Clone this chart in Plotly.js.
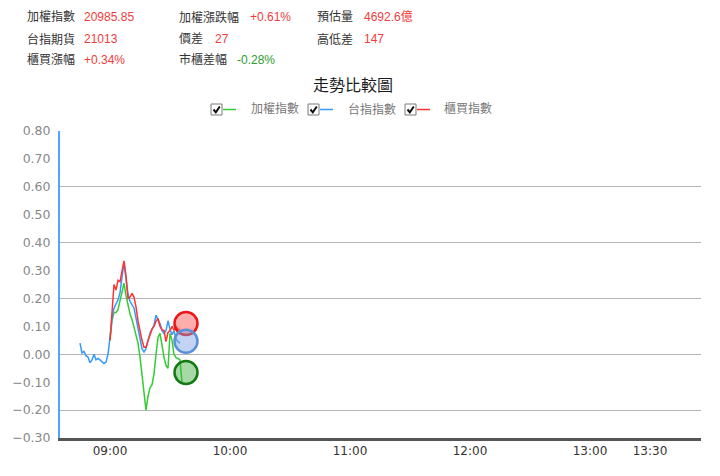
<!DOCTYPE html>
<html>
<head>
<meta charset="utf-8">
<script src="https://cdn.plot.ly/plotly-3.0.1.min.js"></script>
<style>html,body{margin:0;padding:0;background:#fff;}#chart{width:720px;height:476px;}</style>
</head>
<body>
<div id="chart"></div>
<script>
// ---------- DATA ----------
const tradeDay = '2024-01-02 ';
const chartTitle = '走勢比較圖';
const seriesNames = ['加權指數', '台指指數', '櫃買指數'];

const infoLabels = ['加權指數', '加權漲跌幅', '預估量', '台指期貨', '價差', '高低差', '櫃買漲幅', '市櫃差幅'];
const infoValues = ['20985.85', '+0.61%', '4692.6億', '21013', '27', '147', '+0.34%', '-0.28%'];

const futPreTimes = ['08:45','08:46','08:47','08:48','08:49','08:50','08:51','08:52','08:53','08:54','08:55','08:56','08:57','08:58','08:59'];
const idxTimes = ['09:00','09:01','09:02','09:03','09:04','09:05','09:06','09:07','09:08','09:09',
                  '09:10','09:11','09:12','09:13','09:14','09:15','09:16','09:17','09:18','09:19',
                  '09:20','09:21','09:22','09:23','09:24','09:25','09:26','09:27','09:28','09:29',
                  '09:30','09:31','09:32','09:33','09:34','09:35','09:36'];

// 加權指數 (green), 09:00 - 09:36
const taiexValues = [0.05, 0.12, 0.15, 0.15, 0.16, 0.19, 0.23, 0.255, 0.21, 0.17,
                     0.145, 0.125, 0.095, 0.07, 0.04, -0.01, -0.07, -0.14, -0.20, -0.15,
                     -0.12, -0.11, -0.07, 0.0, 0.06, 0.075, 0.03, -0.01, -0.04, -0.05,
                     0.075, 0.05, 0.0, -0.012, -0.015, -0.02, -0.10];

// 台指指數 (blue), 08:45 - 09:35
const futuresValues = [0.04, 0.005, 0.01, -0.005, -0.01, -0.03, -0.02, 0.0, -0.02, -0.015,
                       -0.02, -0.028, -0.033, -0.028, 0.0,
                       0.06, 0.13, 0.165, 0.18, 0.195, 0.22, 0.27, 0.33, 0.27, 0.215,
                       0.19, 0.175, 0.165, 0.13, 0.09, 0.045, 0.02, 0.008, 0.02, 0.05,
                       0.075, 0.09, 0.105, 0.14, 0.125, 0.11, 0.085, 0.075, 0.085, 0.12,
                       0.09, 0.07, 0.085, 0.055, 0.045, 0.04];

// 櫃買指數 (red), 09:00 - 09:35
const otcValues = [0.05, 0.17, 0.25, 0.23, 0.265, 0.26, 0.30, 0.335, 0.28, 0.20,
                   0.205, 0.218, 0.205, 0.17, 0.12, 0.08, 0.05, 0.025, 0.025, 0.048,
                   0.07, 0.09, 0.10, 0.118, 0.128, 0.10, 0.088, 0.085, 0.045, 0.078,
                   0.085, 0.10, 0.086, 0.10, 0.09, 0.088];

// end-point circles: [加權, 台指, 櫃買]
const markerTime = '09:38';
const markerValues = [-0.065, 0.047, 0.11];

const xTickTimes = ['09:00', '10:00', '11:00', '12:00', '13:00', '13:30'];
const yTickVals = [-0.3, -0.2, -0.1, 0.0, 0.1, 0.2, 0.3, 0.4, 0.5, 0.6, 0.7, 0.8];
const yGridVals = [-0.2, 0.0, 0.2, 0.4, 0.6];

// ---------- STYLE / LAYOUT ----------
const colors = ['#33cc33', '#3399ff', '#ff3333'];
const circleFill = ['rgba(60,170,60,0.45)', 'rgba(120,160,225,0.45)', 'rgba(255,90,90,0.5)'];
const circleLine = ['#137a13', '#5b8fd6', '#e81818'];

const W = 720, H = 476, ML = 60, MR = 19, MT = 131, MB = 38;
const PW = W - ML - MR, PH = H - MT - MB;
const px = x => (x - ML) / PW;
const py = y => (H - MB - y) / PH;
const toX = t => tradeDay + t;

const futTimes = futPreTimes.concat(idxTimes.slice(0, futuresValues.length - futPreTimes.length));

const traces = [
  {x: idxTimes.slice(0, taiexValues.length).map(toX), y: taiexValues, name: seriesNames[0],
   mode: 'lines', line: {color: colors[0], width: 1.5}, showlegend: false},
  {x: futTimes.map(toX), y: futuresValues, name: seriesNames[1],
   mode: 'lines', line: {color: colors[1], width: 1.5}, showlegend: false},
  {x: idxTimes.slice(0, otcValues.length).map(toX), y: otcValues, name: seriesNames[2],
   mode: 'lines', line: {color: colors[2], width: 1.5}, showlegend: false}
];
// circles: red, blue, green drawing order
[2, 1, 0].forEach(i => {
  traces.push({x: [toX(markerTime)], y: [markerValues[i]], mode: 'markers', showlegend: false,
    marker: {size: 23, color: circleFill[i], line: {color: circleLine[i], width: 2.5}}});
});

const cjk = "'Liberation Sans', 'Noto Sans CJK TC', sans-serif";
const annotations = [];
// header info
const infoLabelPos = [[25,17],[177,17],[315,17],[25,39],[177,39],[315,39],[25,60],[177,60]];
const infoValuePos = [[82,17],[248,17],[362,17],[82,39],[213,39],[362,39],[82,60],[235,60]];
const infoValueColor = ['#f03c3c','#f03c3c','#f03c3c','#f03c3c','#f03c3c','#f03c3c','#f03c3c','#2e9e2e'];
infoLabels.forEach((t, i) => {
  annotations.push({text: t, xref: 'paper', yref: 'paper', x: px(infoLabelPos[i][0]), y: py(infoLabelPos[i][1]),
    xanchor: 'left', yanchor: 'middle', showarrow: false, font: {family: cjk, size: 12, color: '#333'}});
  annotations.push({text: infoValues[i], xref: 'paper', yref: 'paper', x: px(infoValuePos[i][0]), y: py(infoValuePos[i][1]),
    xanchor: 'left', yanchor: 'middle', showarrow: false, font: {family: cjk, size: 12, color: infoValueColor[i]}});
});
// legend (checkbox, line sample, name)
const legBox = [211, 308, 405], legText = [249, 346, 442];
const legY = 109.5;
const shapes = [];
const P = (x, y) => px(x) + ',' + py(y);
seriesNames.forEach((n, i) => {
  const bx = legBox[i];
  shapes.push({type: 'rect', xref: 'paper', yref: 'paper', x0: px(bx), x1: px(bx + 11),
    y0: py(legY - 5.5), y1: py(legY + 5.5), line: {color: '#7a7a7a', width: 1}, fillcolor: '#fff'});
  shapes.push({type: 'path', xref: 'paper', yref: 'paper',
    path: 'M' + P(bx + 2.5, legY) + 'L' + P(bx + 4.8, legY + 2.8) + 'L' + P(bx + 8.8, legY - 3),
    line: {color: '#111', width: 2}});
  shapes.push({type: 'line', xref: 'paper', yref: 'paper', x0: px(bx + 12), x1: px(bx + 25),
    y0: py(legY), y1: py(legY), line: {color: colors[i], width: 1.5}});
  annotations.push({text: n, xref: 'paper', yref: 'paper', x: px(legText[i]), y: py(legY),
    xanchor: 'left', yanchor: 'middle', showarrow: false, font: {family: cjk, size: 12, color: '#777'}});
});

const layout = {
  width: W, height: H, autosize: false,
  margin: {l: ML, r: MR, t: MT, b: MB, pad: 0},
  paper_bgcolor: '#fff', plot_bgcolor: '#fff',
  title: {text: chartTitle, xref: 'container', yref: 'container', x: 353 / W, y: 1 - 85 / H,
          xanchor: 'center', yanchor: 'middle', font: {family: "'Noto Sans CJK TC', sans-serif", size: 16, color: '#1a1a1a'}},
  xaxis: {type: 'date', range: [toX('08:35'), toX('13:55:30')], tickmode: 'array',
          tickvals: xTickTimes.map(toX), ticktext: xTickTimes, showgrid: false, zeroline: false,
          showline: true, linecolor: '#555', linewidth: 2.5, ticks: '',
          tickfont: {family: 'DejaVu Sans', size: 12, color: '#333'}, fixedrange: true},
  yaxis: {range: [-0.3, 0.8], tickmode: 'array', tickvals: yTickVals, tickformat: '.2f',
          showgrid: false, zeroline: false, showline: true, linecolor: '#4da6ff', linewidth: 2,
          ticks: '', ticklabelstandoff: 5, tickfont: {family: 'DejaVu Sans', size: 12.5, color: '#888'}},
  yaxis2: {range: [-0.3, 0.8], overlaying: 'y', tickmode: 'array', tickvals: yGridVals,
           showticklabels: false, showgrid: true, gridcolor: '#b4b4b4', gridwidth: 1,
           zeroline: false, showline: false, ticks: ''},
  annotations: annotations,
  shapes: shapes
};

// invisible trace to activate the grid axis
traces.unshift({x: [toX('09:00')], y: [0], yaxis: 'y2', mode: 'markers', marker: {opacity: 0}, showlegend: false, hoverinfo: 'skip'});

Plotly.newPlot('chart', traces, layout, {staticPlot: true, displayModeBar: false});
</script>
</body>
</html>
